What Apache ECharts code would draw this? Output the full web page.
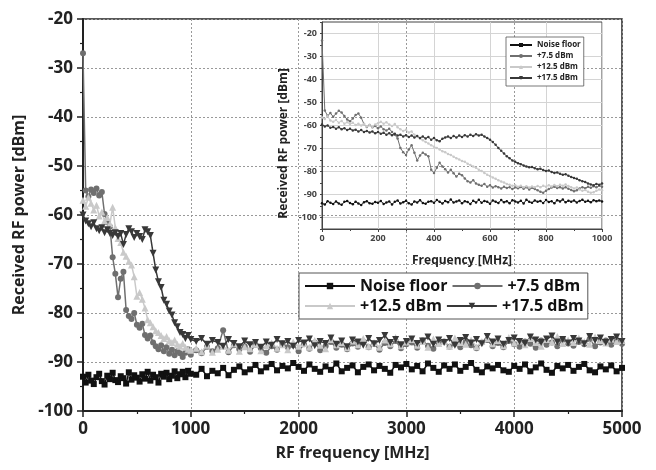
<!DOCTYPE html>
<html>
<head>
<meta charset="utf-8">
<script src="https://cdn.jsdelivr.net/npm/echarts@6.0.0/dist/echarts.min.js"></script>
<style>
  html, body { margin: 0; padding: 0; background: #fff; }
  #chart { width: 656px; height: 470px; }
</style>
</head>
<body>
<div id="chart"></div>
<script>
// main plot: 25 MHz steps up to 1 GHz, then 50 MHz steps
const mainFreq = [
  0, 25, 50, 75, 100, 125, 150, 175, 200, 225,
  250, 275, 300, 325, 350, 375, 400, 425, 450, 475,
  500, 525, 550, 575, 600, 625, 650, 675, 700, 725,
  750, 775, 800, 825, 850, 875, 900, 925, 950, 975,
  1000,
  1050, 1100, 1150, 1200, 1250, 1300, 1350, 1400, 1450, 1500,
  1550, 1600, 1650, 1700, 1750, 1800, 1850, 1900, 1950, 2000,
  2050, 2100, 2150, 2200, 2250, 2300, 2350, 2400, 2450, 2500,
  2550, 2600, 2650, 2700, 2750, 2800, 2850, 2900, 2950, 3000,
  3050, 3100, 3150, 3200, 3250, 3300, 3350, 3400, 3450, 3500,
  3550, 3600, 3650, 3700, 3750, 3800, 3850, 3900, 3950, 4000,
  4050, 4100, 4150, 4200, 4250, 4300, 4350, 4400, 4450, 4500,
  4550, 4600, 4650, 4700, 4750, 4800, 4850, 4900, 4950, 5000
];

const noiseMain = [
  -93.0, -94.2, -92.6, -93.8, -94.5, -93.1, -92.4, -93.9, -94.6, -92.8,
  -93.5, -92.2, -93.7, -94.1, -92.9, -93.3, -94.4, -92.1, -93.6, -92.7,
  -93.2, -94.0, -92.5, -93.4, -92.0, -93.8, -92.6, -93.1, -94.2, -92.4,
  -93.0, -92.2, -93.5, -92.8, -91.9, -93.3, -92.5, -92.0, -93.1, -91.8,
  -92.4,
  -92.6, -91.4, -92.9, -91.8, -92.3, -91.2, -92.7, -91.6, -90.9, -92.1,
  -91.5, -90.6, -91.9, -91.1, -90.4, -91.7, -90.8, -91.3, -90.2, -91.0,
  -91.8, -90.5, -91.4, -92.0, -90.9, -91.6, -90.3, -91.9, -91.2, -90.7,
  -92.1, -91.0, -90.5, -91.7, -90.8, -91.4, -92.2, -90.6, -91.1, -90.4,
  -91.5, -90.8, -91.9, -90.3, -91.2, -92.0, -90.7, -91.4, -90.5, -91.8,
  -91.0, -90.2, -91.6, -92.1, -90.9, -91.3, -90.6, -91.7, -92.0, -90.8,
  -91.4, -90.5, -91.9, -91.1, -90.3, -91.6, -92.2, -90.8, -91.3, -90.6,
  -91.8, -91.0, -90.4, -91.7, -92.1, -90.9, -91.5, -90.7, -91.9, -91.2
];

const p75Main = [
  -27.0, -55.0, -56.2, -54.8, -55.5, -54.6, -56.0, -55.3, -59.8, -61.5,
  -62.4, -68.6, -72.0, -76.8, -73.0, -71.6, -79.4, -80.6, -81.2, -80.0,
  -82.4, -83.0, -82.2, -84.5, -85.2, -84.6, -86.0, -86.8, -87.4, -86.6,
  -87.8, -87.0, -88.3, -87.5, -88.6, -87.8, -88.2, -89.0, -88.1, -87.4,
  -88.5,
  -87.6, -88.2, -86.9, -87.8, -87.2, -83.5, -88.0, -86.6, -87.4, -86.8,
  -87.9, -86.5, -87.2, -88.1, -86.8, -87.5, -86.2, -87.0, -86.6, -87.8,
  -86.4, -87.3, -86.0, -87.6, -86.8, -85.9, -87.1, -86.5, -87.4, -86.2,
  -86.9, -85.8, -87.0, -86.3, -87.5, -86.1, -86.8, -85.7, -87.2, -86.4,
  -86.0, -87.1, -85.6, -86.7, -87.3, -86.2, -85.8, -86.9, -86.3, -87.0,
  -85.9, -86.6, -87.2, -86.0, -85.5, -86.8, -86.1, -87.0, -85.7, -86.4,
  -86.9, -85.8, -86.3, -87.1, -85.6, -86.5, -86.0, -86.8, -85.4, -86.2,
  -86.7, -85.9, -86.4, -85.3, -86.8, -86.0, -85.6, -86.5, -85.8, -86.3
];

const p125Main = [
  -57.0, -58.2, -56.4, -57.6, -59.0, -58.0, -60.2, -59.4, -61.2, -60.5,
  -61.8, -58.4, -62.6, -64.8, -65.6, -67.6, -68.4, -69.5, -70.2, -72.6,
  -76.6, -75.8, -77.2, -79.0, -81.4, -82.0, -82.8, -83.6, -84.0, -84.6,
  -85.2, -84.8, -85.6, -86.0, -85.5, -86.4, -86.8, -86.2, -87.0, -87.4,
  -87.6,
  -87.2, -87.9, -86.6, -88.0, -87.4, -86.8, -87.6, -86.3, -87.8, -86.9,
  -87.3, -86.4, -87.7, -86.7, -86.1, -87.2, -86.5, -87.5, -85.9, -86.8,
  -86.2, -87.0, -85.6, -86.6, -87.3, -85.4, -86.5, -86.0, -87.1, -85.7,
  -86.5, -85.2, -86.8, -86.0, -87.0, -85.5, -86.3, -85.0, -86.7, -85.9,
  -85.4, -86.6, -85.8, -87.0, -85.3, -86.2, -85.7, -86.8, -85.1, -86.0,
  -86.4, -85.5, -86.9, -85.8, -85.2, -86.3, -85.6, -86.7, -85.0, -86.1,
  -85.7, -86.5, -85.2, -86.0, -86.8, -85.4, -85.9, -84.8, -86.2, -85.5,
  -86.0, -85.1, -85.8, -86.4, -84.9, -85.6, -86.1, -85.3, -85.8, -85.6
];

const p175Main = [
  -60.0, -61.2, -61.8, -62.4, -61.6, -62.8, -63.2, -62.6, -63.6, -63.0,
  -63.8, -64.2, -63.6, -64.4, -63.8, -66.0, -64.0, -62.8, -63.4, -64.6,
  -63.8, -64.4, -65.0, -63.0, -63.4, -64.2, -67.8, -71.2, -73.6, -74.8,
  -77.4, -78.2, -79.6, -80.4, -82.0, -82.8, -84.0, -84.4, -85.2, -84.6,
  -85.4,
  -85.8, -85.2, -86.4, -85.6, -86.0, -86.8, -85.4, -86.2, -86.9, -85.7,
  -86.5, -86.0, -87.0, -85.9, -86.6, -85.4, -86.3, -85.8, -86.8, -85.6,
  -86.1, -85.3, -86.7, -85.8, -86.2, -85.1, -86.4, -85.7, -86.9, -85.5,
  -85.9, -86.6, -85.2, -86.3, -85.6, -84.6, -86.0, -85.4, -86.5, -85.8,
  -85.3, -86.2, -85.7, -84.9, -86.4, -85.5, -86.0, -85.2, -86.6, -85.6,
  -85.0, -86.1, -85.4, -86.3, -84.8, -85.9, -85.3, -86.4, -85.6, -85.1,
  -85.8, -86.2, -84.9, -85.5, -86.0, -85.3, -84.7, -85.9, -85.4, -86.1,
  -85.2, -85.7, -86.3, -84.8, -85.6, -85.1, -86.0, -85.4, -84.9, -85.8
];

// inset: 0-1000 MHz, 10 MHz steps
const insetFreq = [
  0, 10, 20, 30, 40, 50, 60, 70, 80, 90,
  100, 110, 120, 130, 140, 150, 160, 170, 180, 190,
  200, 210, 220, 230, 240, 250, 260, 270, 280, 290,
  300, 310, 320, 330, 340, 350, 360, 370, 380, 390,
  400, 410, 420, 430, 440, 450, 460, 470, 480, 490,
  500, 510, 520, 530, 540, 550, 560, 570, 580, 590,
  600, 610, 620, 630, 640, 650, 660, 670, 680, 690,
  700, 710, 720, 730, 740, 750, 760, 770, 780, 790,
  800, 810, 820, 830, 840, 850, 860, 870, 880, 890,
  900, 910, 920, 930, 940, 950, 960, 970, 980, 990,
  1000
];

const noiseInset = [
  -93.8, -94.4, -92.9, -93.6, -94.1, -93.0, -93.9, -94.5, -93.2, -92.8,
  -93.7, -94.2, -93.1, -93.9, -94.6, -93.4, -92.9, -93.8, -94.0, -93.3,
  -93.6, -92.8, -94.1, -93.5, -93.0, -94.3, -93.2, -92.6, -93.9, -93.4,
  -92.7, -93.8, -94.4, -93.0, -93.5, -92.5, -93.7, -94.0, -93.1, -92.9,
  -93.6, -92.4, -93.2, -93.9, -92.8, -93.4, -92.2, -93.5, -93.0, -92.6,
  -93.8, -92.9, -93.3, -94.1, -92.7, -93.5, -92.3, -93.6, -92.8, -93.2,
  -94.0, -92.6, -93.1, -93.7, -92.4, -93.4, -92.9, -93.8, -92.5, -93.0,
  -93.5, -92.7, -93.9, -92.3, -93.2, -93.6, -92.6, -93.1, -92.8, -93.7,
  -92.4, -93.3, -92.9, -93.8, -92.5, -93.0, -92.2, -93.4, -92.7, -93.1,
  -92.6, -93.5, -92.8, -92.3, -93.2, -92.7, -93.4, -92.5, -92.9, -92.6,
  -93.0
];

const p75Inset = [
  -23.0, -53.5, -55.8, -54.6, -56.2, -54.8, -53.6, -54.4, -55.9, -57.4,
  -58.2, -57.0, -55.4, -54.8, -56.6, -59.4, -60.6, -59.8, -60.8, -60.2,
  -61.2, -60.4, -61.6, -62.2, -61.4, -62.8, -64.0, -65.6, -69.8, -71.6,
  -72.8, -70.4, -68.6, -71.8, -75.2, -73.0, -71.8, -72.6, -73.4, -79.2,
  -80.6, -78.4, -76.2, -77.8, -79.0, -80.4, -79.2, -80.8, -82.2, -81.0,
  -81.6, -83.0, -84.2, -84.8, -83.8, -85.2, -85.8, -86.2, -85.4, -86.6,
  -86.0, -87.0, -86.4, -86.8, -87.4, -86.6, -87.2, -86.8, -87.6, -86.9,
  -87.3, -86.7, -87.5, -86.9, -87.8, -87.1, -87.6, -88.2, -88.8, -89.2,
  -88.4, -87.6, -87.0, -86.6, -87.2, -86.8, -87.4, -86.9, -87.5, -88.0,
  -88.6, -88.2, -87.4, -86.8, -87.3, -86.6, -87.1, -86.4, -86.9, -86.2,
  -86.6
];

const p125Inset = [
  -56.5, -57.2, -56.0, -57.8, -58.4, -57.6, -58.8, -58.0, -59.2, -58.6,
  -59.4, -58.8, -59.8, -59.2, -60.0, -59.4, -60.4, -59.8, -60.6, -59.6,
  -59.0, -58.4, -59.2, -58.6, -59.6, -60.2, -59.4, -60.8, -61.6, -62.4,
  -61.8, -63.0, -62.6, -64.0, -64.8, -65.6, -66.4, -67.2, -67.8, -68.6,
  -69.2, -69.8, -70.4, -71.2, -71.6, -72.4, -72.8, -73.6, -74.2, -74.8,
  -75.4, -75.8, -76.6, -77.2, -77.8, -78.4, -79.2, -79.8, -80.6, -81.4,
  -82.0, -82.6, -83.2, -83.8, -84.4, -84.8, -85.4, -85.8, -86.2, -86.0,
  -86.6, -86.2, -86.8, -86.4, -87.0, -86.5, -86.9, -86.3, -86.8, -86.2,
  -86.6, -86.0, -86.5, -85.9, -86.4, -85.8, -86.2, -85.7, -86.3, -86.8,
  -87.4, -87.0, -87.8, -88.4, -88.0, -88.8, -89.2, -89.0, -88.4, -87.8,
  -88.2
];

const p175Inset = [
  -59.6, -60.4, -60.0, -61.0, -60.6, -61.4, -60.8, -61.6, -61.2, -62.0,
  -61.4, -62.2, -61.8, -62.6, -62.0, -62.8, -62.4, -63.0, -62.6, -63.4,
  -62.8, -63.6, -63.2, -64.0, -63.4, -64.2, -63.6, -64.4, -64.0, -64.8,
  -64.2, -65.0, -64.4, -65.2, -64.6, -65.4, -64.8, -65.6, -65.0, -66.2,
  -65.4, -66.4, -66.8, -65.8, -65.2, -64.8, -65.4, -64.6, -65.2, -64.4,
  -65.0, -64.2, -64.8, -64.0, -64.6, -63.8, -64.4, -64.0, -64.8, -65.4,
  -66.2, -67.2, -68.4, -69.8, -71.0, -72.2, -73.4, -74.2, -75.2, -75.8,
  -76.4, -76.8, -77.4, -77.8, -78.2, -78.0, -78.6, -79.0, -78.8, -79.4,
  -79.8, -79.6, -80.2, -80.6, -80.4, -81.0, -81.4, -81.2, -81.8, -82.4,
  -82.8, -83.2, -83.8, -84.2, -84.6, -85.2, -85.6, -86.0, -85.4, -85.8,
  -85.2
];

const seriesNames = ['Noise floor', '+7.5 dBm', '+12.5 dBm', '+17.5 dBm'];
const seriesColors = ['#111111', '#6f6f6f', '#c9c9c9', '#383838'];

const FONT = 'Open Sans';
const chart = echarts.init(document.getElementById('chart'));

function pairs(xs, ys) {
  return xs.map((x, i) => [x, ys[i]]);
}

function mainLine(idx, ys, symbol, size, rotate) {
  return {
    name: seriesNames[idx],
    type: 'line',
    xAxisIndex: 0,
    yAxisIndex: 0,
    data: pairs(mainFreq, ys),
    symbol: symbol,
    symbolSize: size,
    symbolRotate: rotate || 0,
    showAllSymbol: true,
    itemStyle: { color: seriesColors[idx] },
    lineStyle: { color: seriesColors[idx], width: 1.5 }
  };
}

function insetLine(idx, ys) {
  return {
    name: seriesNames[idx],
    type: 'line',
    xAxisIndex: 1,
    yAxisIndex: 1,
    data: pairs(insetFreq, ys),
    symbol: 'circle',
    symbolSize: 2.5,
    showAllSymbol: true,
    itemStyle: { color: seriesColors[idx] },
    lineStyle: { color: seriesColors[idx], width: 1 }
  };
}

const plain = v => String(v);

const option = {
  animation: false,
  backgroundColor: '#fff',
  grid: [{
    left: 83, top: 19, width: 539, height: 392,
    show: true, borderColor: '#222', borderWidth: 1.5,
    containLabel: false, outerBoundsMode: 'none'
  }, {
    left: 322, top: 22, width: 280, height: 207,
    show: true, borderColor: '#444', borderWidth: 1,
    containLabel: false, outerBoundsMode: 'none'
  }],
  legend: [{
    data: seriesNames,
    left: 299, top: 273, width: 340,
    padding: [5, 4, 5, 5],
    itemGap: 4,
    itemWidth: 50, itemHeight: 8,
    backgroundColor: '#fff',
    borderColor: '#555', borderWidth: 1,
    textStyle: { fontFamily: FONT, fontSize: 16, fontWeight: 'bold', color: '#111' }
  }, {
    data: seriesNames,
    orient: 'vertical',
    left: 506, top: 37,
    padding: [4, 3, 4, 3],
    itemGap: 3,
    itemWidth: 22, itemHeight: 5,
    backgroundColor: '#fff',
    borderColor: '#555', borderWidth: 0.8,
    textStyle: { fontFamily: FONT, fontSize: 8, fontWeight: 'bold', color: '#222' }
  }],
  xAxis: [{
    gridIndex: 0, type: 'value', min: 0, max: 5000, interval: 1000,
    name: 'RF frequency [MHz]', nameLocation: 'middle', nameGap: 34,
    nameTextStyle: { fontFamily: FONT, fontSize: 16, fontWeight: 'bold', color: '#222' },
    axisLine: { show: true, onZero: false, lineStyle: { color: '#222', width: 2 } },
    axisTick: { show: true, length: 6, lineStyle: { color: '#222', width: 1.5 } },
    minorTick: { show: true, splitNumber: 2, length: 3, lineStyle: { color: '#222', width: 1.2 } },
    axisLabel: { fontFamily: FONT, fontSize: 17, fontWeight: 'bold', color: '#222', margin: 10, formatter: plain },
    splitLine: { show: true, lineStyle: { color: '#999', type: [2, 2], width: 1 } }
  }, {
    gridIndex: 1, type: 'value', min: 0, max: 1000, interval: 200,
    name: 'Frequency [MHz]', nameLocation: 'middle', nameGap: 26,
    nameTextStyle: { fontFamily: FONT, fontSize: 12, fontWeight: 'bold', color: '#222' },
    axisLine: { show: true, onZero: false, lineStyle: { color: '#444', width: 1 } },
    axisTick: { show: true, length: 3, lineStyle: { color: '#444' } },
    minorTick: { show: true, splitNumber: 2, length: 2, lineStyle: { color: '#444' } },
    axisLabel: { fontFamily: FONT, fontSize: 9, fontWeight: 'bold', color: '#444', margin: 5, formatter: plain },
    splitLine: { show: true, lineStyle: { color: '#d4d4d4', width: 1 } }
  }],
  yAxis: [{
    gridIndex: 0, type: 'value', min: -100, max: -20, interval: 10,
    name: 'Received RF power [dBm]', nameLocation: 'middle', nameGap: 46,
    nameTextStyle: { fontFamily: FONT, fontSize: 16, fontWeight: 'bold', color: '#222' },
    axisLine: { show: true, onZero: false, lineStyle: { color: '#222', width: 2 } },
    axisTick: { show: true, length: 6, lineStyle: { color: '#222', width: 1.5 } },
    minorTick: { show: true, splitNumber: 2, length: 3, lineStyle: { color: '#222', width: 1.2 } },
    axisLabel: { fontFamily: FONT, fontSize: 17, fontWeight: 'bold', color: '#222', margin: 10 },
    splitLine: { show: true, lineStyle: { color: '#999', type: [2, 2], width: 1 } }
  }, {
    gridIndex: 1, type: 'value', min: -105, max: -15, interval: 5,
    name: 'Received RF power [dBm]', nameLocation: 'middle', nameGap: 32,
    nameTextStyle: { fontFamily: FONT, fontSize: 12, fontWeight: 'bold', color: '#222', padding: [0, 36, 0, 0] },
    axisLine: { show: true, onZero: false, lineStyle: { color: '#444', width: 1 } },
    axisTick: { show: true, length: 2, lineStyle: { color: '#444' } },
    axisLabel: {
      fontFamily: FONT, fontSize: 9, fontWeight: 'bold', color: '#444', margin: 5,
      formatter: v => (v % 10 === 0 && v > -105 && v < -15) ? String(v) : ''
    },
    splitLine: { show: true, lineStyle: { color: ['rgba(0,0,0,0)', '#d4d4d4'], width: 1 } }
  }],
  series: [
    mainLine(0, noiseMain, 'rect', 6),
    mainLine(1, p75Main, 'circle', 6),
    mainLine(2, p125Main, 'triangle', 7),
    mainLine(3, p175Main, 'triangle', 7, 180),
    insetLine(0, noiseInset),
    insetLine(1, p75Inset),
    insetLine(2, p125Inset),
    insetLine(3, p175Inset)
  ]
};

chart.setOption(option);
</script>
</body>
</html>
